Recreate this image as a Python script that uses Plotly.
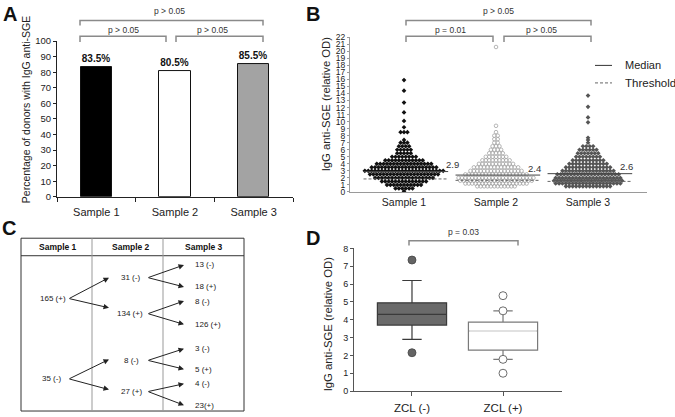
import plotly.graph_objects as go

W, H = 675, 417
FONT = "Arial, 'Liberation Sans', Helvetica, sans-serif"

# ---------------- DATA ----------------
samples = ["Sample 1", "Sample 2", "Sample 3"]
pct_positive = [83.5, 80.5, 85.5]

# Panel B: IgG anti-SGE values (grouped by level)
s1_levels = [0.1, 0.5, 1.0, 1.5, 2.0, 2.5, 3.0, 3.5, 4.0, 4.5, 5.0, 5.5, 6.0, 6.5,
             7.0, 7.4, 8.5, 9.2, 10.1, 11.3, 12.7, 14.4, 15.9]
s1_counts = [1, 6, 11, 14, 18, 21, 24, 20, 17, 12, 8, 5, 5, 4,
             3, 1, 3, 1, 1, 1, 1, 1, 1]
s2_levels = [0.8, 1.2, 1.6, 2.0, 2.5, 3.0, 3.5, 4.0, 4.5, 5.0, 5.5, 6.0, 6.5,
             7.0, 7.5, 8.0, 8.5, 9.4, 20.6]
s2_counts = [12, 19, 22, 23, 19, 16, 14, 11, 9, 7, 5, 4, 3,
             2, 2, 2, 1, 1, 1]
s3_levels = [0.8, 1.2, 1.6, 2.0, 2.5, 3.0, 3.5, 4.0, 4.5, 5.0, 5.5, 6.0, 6.5,
             7.0, 7.4, 7.7, 9.9, 10.6, 12.1, 13.7]
s3_counts = [14, 20, 21, 20, 19, 16, 14, 12, 10, 8, 7, 6, 4,
             1, 1, 1, 1, 1, 1, 1]
medians = [2.9, 2.4, 2.6]
median_labels = ["2.9", "2.4", "2.6"]
thresholds = [1.85, 1.65, 1.5]

# Panel C: seroconversion tree
tree_s1 = ["165 (+)", "35 (-)"]
tree_s2 = ["31 (-)", "134 (+)", "8 (-)", "27 (+)"]
tree_s3 = ["13 (-)", "18 (+)", "8 (-)", "126 (+)", "3 (-)", "5 (+)", "4 (-)", "23(+)"]

# Panel D: box statistics
zcl_groups = ["ZCL (-)", "ZCL (+)"]
zcl_q1 = [3.7, 2.3]
zcl_median = [4.3, 3.37]
zcl_q3 = [4.95, 3.87]
zcl_low = [2.9, 1.78]
zcl_high = [6.2, 4.5]
zcl_out_neg = [7.35, 2.15]
zcl_out_pos = [5.35, 4.5, 1.78, 1.0]

p_A = ["p > 0.05", "p > 0.05", "p > 0.05"]
p_B = ["p > 0.05", "p = 0.01", "p > 0.05"]
p_D = ["p = 0.03"]

# ---------------- HELPERS ----------------
shapes, annotations = [], []


def text(x, y, s, size, color="#222", bold=False, xanchor="center", angle=0):
    annotations.append(dict(
        x=x / W, y=1 - y / H, xref="paper", yref="paper",
        text=f"<b>{s}</b>" if bold else s, showarrow=False,
        font=dict(family=FONT, size=size, color=color),
        xanchor=xanchor, yanchor="middle", textangle=angle))


def bracket(x0, x1, y, drop, color="#8a8a8a"):
    shapes.append(dict(
        type="path", xref="paper", yref="paper",
        path=(f"M {x0 / W},{1 - (y + drop) / H} L {x0 / W},{1 - y / H} "
              f"L {x1 / W},{1 - y / H} L {x1 / W},{1 - (y + drop) / H}"),
        line=dict(color=color, width=1.5)))


def line(x0, y0, x1, y1, color, width=1, dash=None):
    shapes.append(dict(type="line", xref="paper", yref="paper",
                       x0=x0 / W, y0=1 - y0 / H, x1=x1 / W, y1=1 - y1 / H,
                       line=dict(color=color, width=width, dash=dash)))


def arrow(x0, y0, x1, y1):
    annotations.append(dict(
        x=x1 / W, y=1 - y1 / H, xref="paper", yref="paper",
        ax=x0 - x1, ay=y0 - y1, axref="pixel", ayref="pixel",
        text="", showarrow=True, arrowhead=2, arrowsize=1.1,
        arrowwidth=1, arrowcolor="#222", standoff=0, startstandoff=0))


def swarm(levels, counts, center, dx):
    xs, ys = [], []
    for v, n in zip(levels, counts):
        for i in range(n):
            xs.append(center + (i - (n - 1) / 2) * dx)
            ys.append(v)
    return xs, ys


fig = go.Figure()

# ---------------- PANEL A ----------------
fig.add_trace(go.Bar(
    x=[0, 1, 2], y=pct_positive, width=0.4,
    marker=dict(color=["#000000", "#ffffff", "#a3a3a3"],
                line=dict(color="#111", width=1)),
    text=[f"<b>{v}%</b>" for v in pct_positive], textposition="outside",
    textfont=dict(family=FONT, size=10, color="#111"), cliponaxis=False,
    xaxis="x", yaxis="y", showlegend=False))

bracket(80, 263, 15, 5)
bracket(80, 166, 31, 6)
bracket(176, 263, 31, 6)
text(170, 5, p_A[0], 8.5, "#333")
text(123, 25, p_A[1], 8.5, "#333")
text(213, 25, p_A[2], 8.5, "#333")
text(26, 107, "Percentage of donors with IgG anti-SGE", 10.5, "#222", angle=-90)
text(10, 8, "A", 20, "#111", bold=True)

# ---------------- PANEL B ----------------
centers = [1, 2, 3]
dx = 0.037
sw_style = [
    dict(symbol="diamond", size=3.6, color="#111"),
    dict(symbol="circle-open", size=3.6, color="#a3a3a3", line=dict(width=0.8, color="#a3a3a3")),
    dict(symbol="diamond", size=3.6, color="#555"),
]
for (lv, ct), c, st in zip([(s1_levels, s1_counts), (s2_levels, s2_counts), (s3_levels, s3_counts)],
                           centers, sw_style):
    xs, ys = swarm(lv, ct, c, dx)
    fig.add_trace(go.Scatter(x=xs, y=ys, mode="markers", marker=st,
                             xaxis="x2", yaxis="y2", showlegend=False))

label_dx = [0.53, 0.42, 0.42]
for c, m, t, lab, ldx in zip(centers, medians, thresholds, median_labels, label_dx):
    shapes.append(dict(type="line", xref="x2", yref="y2", x0=c - 0.44, x1=c + 0.48,
                       y0=m, y1=m, line=dict(color="#444", width=1)))
    shapes.append(dict(type="line", xref="x2", yref="y2", x0=c - 0.44, x1=c + 0.48,
                       y0=t, y1=t, line=dict(color="#666", width=1, dash="3px,2px")))
    annotations.append(dict(x=c + ldx, y=m, xref="x2", yref="y2", text=lab,
                            showarrow=False, yshift=7,
                            font=dict(family=FONT, size=9.5, color="#333")))

bracket(406, 591, 15, 5)
bracket(406, 493, 31, 6)
bracket(504, 591, 31, 6)
text(498, 5, p_B[0], 8.5, "#333")
text(450, 25, p_B[1], 8.5, "#333")
text(541, 25, p_B[2], 8.5, "#333")

line(595, 61, 612, 61, "#333", 1)
line(595, 79, 612, 79, "#666", 1, "3px,2px")
text(623, 61, "Median", 11, "#222", xanchor="left")
text(623, 79, "Threshold", 11.5, "#222", xanchor="left")

text(326, 101, "IgG anti-SGE (relative OD)", 11.3, "#222", angle=-90)
text(313, 8, "B", 20, "#111", bold=True)

# ---------------- PANEL C ----------------
TL, TR, TT, TB = 21, 244, 238.5, 416
col_div = [92, 163]
shapes.append(dict(type="rect", xref="paper", yref="paper",
                   x0=TL / W, x1=TR / W, y0=1 - TB / H, y1=1 - TT / H,
                   line=dict(color="#333", width=1)))
line(TL, 256.5, TR, 256.5, "#333", 1)
for cx in col_div:
    line(cx, TT, cx, TB, "#999", 1)
for s, hx in zip(samples, [58, 131, 204]):
    text(hx, 247.5, s, 8.5, "#111", bold=True)

# layout of the tree (pixel positions)
l1_pos = [(53, 300.5), (51, 383)]
l2_pos = [(130.5, 279), (130, 316), (131, 364), (131, 396)]
l3_y = [266, 288.5, 303, 327, 352, 373, 388, 410]
l3_x = 193
l1_tips = [[(109, 279), (109, 310)], [(109, 363), (109, 394)]]

for lab, (x, y) in zip(tree_s1, l1_pos):
    text(x, y, lab, 8, "#222")
for lab, (x, y) in zip(tree_s2, l2_pos):
    text(x, y, lab, 8, "#222")
for lab, y in zip(tree_s3, l3_y):
    text(l3_x, y, lab, 8, "#222", xanchor="left")

for i, (x, y) in enumerate(l1_pos):
    for (tx, ty) in l1_tips[i]:
        arrow(68, y, tx, ty)
for i, (x, y) in enumerate(l2_pos):
    for j in range(2):
        arrow(147, y, 184, l3_y[2 * i + j])

text(9, 228, "C", 20, "#111", bold=True)

# ---------------- PANEL D ----------------
box_fill = ["#6a6a6a", "#ffffff"]
box_line = ["#3a3a3a", "#7a7a7a"]
for i in range(2):
    fig.add_trace(go.Box(
        x=[i], q1=[zcl_q1[i]], median=[zcl_median[i]], q3=[zcl_q3[i]],
        lowerfence=[zcl_low[i]], upperfence=[zcl_high[i]],
        width=0.76, whiskerwidth=0.28, fillcolor=box_fill[i],
        line=dict(color=box_line[i], width=1.2), boxpoints=False,
        xaxis="x3", yaxis="y3", showlegend=False, hoverinfo="skip"))
shapes.append(dict(type="line", xref="x3", yref="y3", x0=1 - 0.37, x1=1 + 0.37,
                   y0=zcl_median[1], y1=zcl_median[1],
                   line=dict(color="#eeeeee", width=1.6)))
fig.add_trace(go.Scatter(
    x=[0] * len(zcl_out_neg), y=zcl_out_neg, mode="markers",
    marker=dict(symbol="circle", size=8, color="#646464", line=dict(color="#444", width=0.8)),
    xaxis="x3", yaxis="y3", showlegend=False))
fig.add_trace(go.Scatter(
    x=[1] * len(zcl_out_pos), y=zcl_out_pos, mode="markers",
    marker=dict(symbol="circle", size=8, color="#ffffff", line=dict(color="#6e6e6e", width=1)),
    xaxis="x3", yaxis="y3", showlegend=False))

bracket(409, 518, 241, 5)
text(463, 232.5, p_D[0], 8.5, "#333")
text(328, 327, "IgG anti-SGE (relative OD)", 11.3, "#222", angle=-90)
text(313, 238, "D", 20, "#111", bold=True)

# ---------------- LAYOUT ----------------
tickf = lambda s: dict(family=FONT, size=s, color="#222")

fig.update_layout(
    width=W, height=H, margin=dict(l=0, r=0, t=0, b=0),
    paper_bgcolor="white", plot_bgcolor="rgba(0,0,0,0)",
    font=dict(family=FONT, color="#222"),
    showlegend=False, bargap=0, boxmode="overlay",
    xaxis=dict(domain=[57 / W, 293 / W], range=[-0.5, 2.5], anchor="y",
               tickvals=[0, 1, 2], ticktext=samples, ticks="",
               ticklabelstandoff=5,
               minor=dict(tickvals=[-0.5, 0.5, 1.5, 2.5], ticks="outside",
                          ticklen=4, tickcolor="#222", showgrid=False),
               showline=True, linecolor="#222", linewidth=1,
               showgrid=False, zeroline=False, tickfont=tickf(11)),
    yaxis=dict(domain=[1 - 196 / H, 1 - 36 / H], range=[0, 100], anchor="x",
               tickmode="linear", tick0=0, dtick=10, ticks="outside", ticklen=3,
               tickcolor="#222", showline=True, linecolor="#222", linewidth=1,
               showgrid=False, zeroline=False, tickfont=tickf(9.5)),
    xaxis2=dict(domain=[350 / W, 647 / W], range=[0.413, 3.641], anchor="y2",
                tickvals=centers, ticktext=samples, ticks="",
                showline=True, linecolor="#9a9a9a", linewidth=1,
                showgrid=False, zeroline=False, tickfont=tickf(10.5)),
    yaxis2=dict(domain=[1 - 191 / H, 1 - 32 / H], range=[0, 22], anchor="x2",
                tickmode="linear", tick0=0, dtick=1, ticks="outside", ticklen=2,
                tickcolor="#9a9a9a", showline=True, linecolor="#9a9a9a", linewidth=1,
                showgrid=False, zeroline=False, tickfont=tickf(8.5)),
    xaxis3=dict(domain=[354 / W, 562 / W], range=[-0.637, 1.648], anchor="y3",
                tickvals=[0, 1], ticktext=zcl_groups, ticks="outside", ticklen=4,
                tickcolor="#555", ticklabelstandoff=2,
                showline=True, linecolor="#555", linewidth=1,
                showgrid=False, zeroline=False, tickfont=tickf(11.5)),
    yaxis3=dict(domain=[1 - 395.5 / H, 1 - 249 / H], range=[0, 8], anchor="x3",
                tickmode="linear", tick0=0, dtick=1, ticks="outside", ticklen=3,
                tickcolor="#555", showline=True, linecolor="#555", linewidth=1,
                showgrid=False, zeroline=False, tickfont=tickf(9)),
    shapes=shapes, annotations=annotations,
)

fig.write_html("out.html", config={"displayModeBar": False},
               post_script="document.body.style.margin='0';document.body.style.overflow='hidden';")
